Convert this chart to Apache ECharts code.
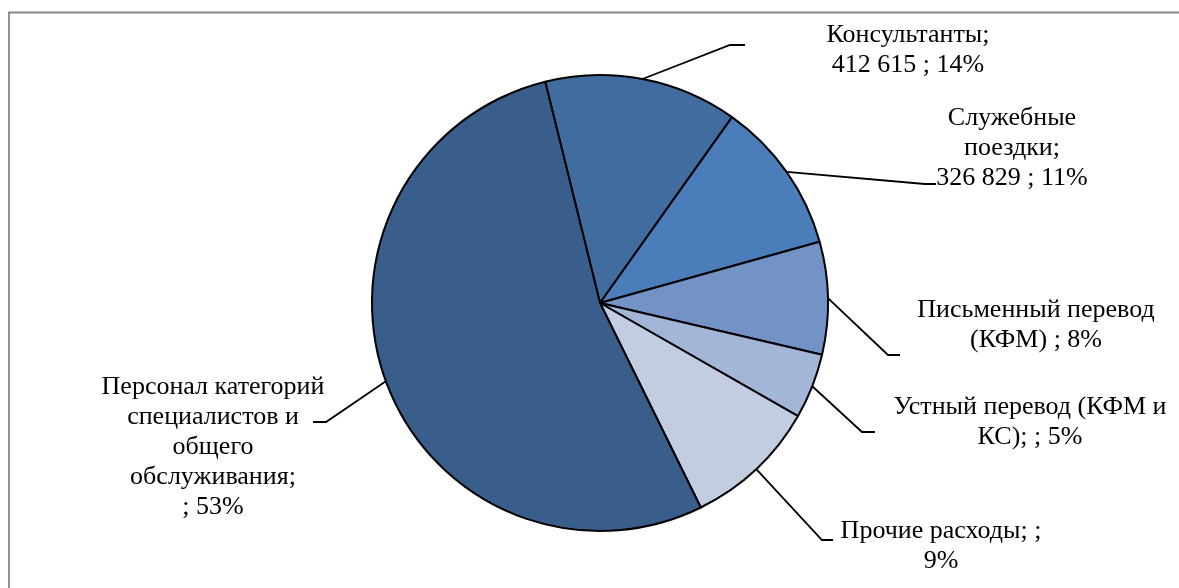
<!DOCTYPE html>
<html>
<head>
<meta charset="utf-8">
<script src="https://cdn.jsdelivr.net/npm/echarts@6/dist/echarts.min.js"></script>
<style>
  html, body { margin: 0; padding: 0; background: #ffffff; }
  #chart { width: 1179px; height: 588px; }
</style>
</head>
<body>
<div id="chart"></div>
<script>
// ---- data ----
const categories = [
  'Консультанты',
  'Служебные поездки',
  'Письменный перевод (КФМ)',
  'Устный перевод (КФМ и КС)',
  'Прочие расходы',
  'Персонал категорий специалистов и общего обслуживания'
];
const values = [412615, 326829, 240000, 139000, 285000, 1610000];
const labelTemplates = [
  'Консультанты;\n{v} ; {p}%',
  'Служебные\nпоездки;\n{v} ; {p}%',
  'Письменный перевод\n(КФМ) ; {p}%',
  'Устный перевод (КФМ и\nКС); ; {p}%',
  'Прочие расходы; ;\n{p}%',
  'Персонал категорий\nспециалистов и\nобщего\nобслуживания;\n; {p}%'
];

// ---- styling / layout ----
const colors = ['#416CA0', '#4A7DBA', '#7393C7', '#A3B6D7', '#C3CDE2', '#3A5E8C'];
// [labelCenterX, labelCenterY, bendX, bendY, endX, endY]
const labelLayoutCfg = [
  [908, 50, 730, 45, 745, 45],
  [1012, 148, 925, 184, 936, 184],
  [1036, 325, 888, 355, 900, 355],
  [1030, 422, 862, 432, 875, 432],
  [941, 546, 822, 540, 833, 540],
  [213, 447, 326, 422, 313, 422]
];

function fmtNum(v) {
  return String(v).replace(/\B(?=(\d{3})+(?!\d))/g, ' ');
}

const chart = echarts.init(document.getElementById('chart'), null, { renderer: 'canvas' });

const data = categories.map((name, i) => ({
  name: name,
  value: values[i],
  itemStyle: { color: colors[i] }
}));

chart.setOption({
  animation: false,
  backgroundColor: '#ffffff',
  graphic: [{
    type: 'rect',
    shape: { x: 9, y: 12.5, width: 1400, height: 800 },
    style: { fill: 'none', stroke: '#878787', lineWidth: 1.8 },
    silent: true
  }],
  series: [{
    type: 'pie',
    center: [600, 303],
    radius: 228,
    startAngle: 103.9,
    clockwise: true,
    avoidLabelOverlap: false,
    data: data,
    itemStyle: { borderColor: '#000000', borderWidth: 2 },
    emphasis: { disabled: true },
    label: {
      show: true,
      position: 'outside',
      fontFamily: 'Liberation Serif',
      fontSize: 26,
      lineHeight: 30,
      color: '#000000',
      align: 'center',
      formatter: function (p) {
        return labelTemplates[p.dataIndex]
          .replace('{v}', fmtNum(p.value))
          .replace('{p}', Math.round(p.percent));
      }
    },
    labelLine: {
      show: true,
      length: 20,
      length2: 10,
      lineStyle: { color: '#000000', width: 1.8 }
    },
    labelLayout: function (p) {
      const c = labelLayoutCfg[p.dataIndex];
      const pts = p.labelLinePoints;
      const start = pts && pts[0] ? pts[0] : [c[2], c[3]];
      return {
        x: c[0],
        y: c[1],
        align: 'center',
        verticalAlign: 'middle',
        labelLinePoints: [start, [c[2], c[3]], [c[4], c[5]]]
      };
    }
  }]
});
</script>
</body>
</html>
